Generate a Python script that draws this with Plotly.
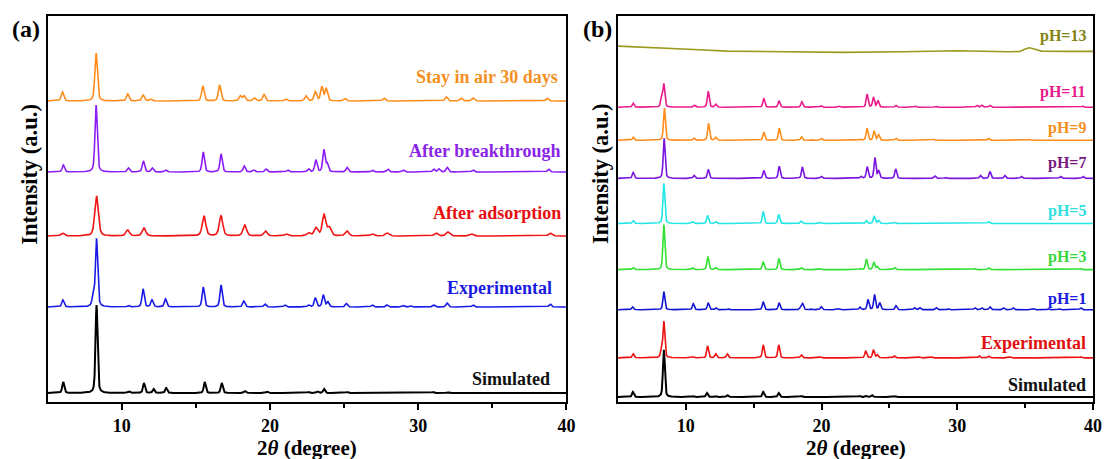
import numpy as np
import plotly.graph_objects as go

# ---------------------------------------------------------------
# Powder XRD patterns: each pattern is listed as peak positions
# (2θ, degree), peak heights (a.u.) and a vertical stacking offset.
# ---------------------------------------------------------------

# ---- panel (a) ----
A_SIM_POS = [6.05, 8.3, 10.5, 11.5, 12.15, 13.0, 15.6, 16.75, 18.3, 19.8, 22.6, 23.2, 23.65, 25.2, 31.0, 32.0]
A_SIM_H = [11, 88, 1.5, 10, 4, 5, 11, 10, 2, 1.5, 1, 1.5, 4, 1, 1, 1]

A_EXP_POS = [6.03, 8.07, 8.3, 10.45, 11.44, 12.04, 12.95, 15.5, 16.7, 18.23, 19.66, 21.0, 22.6, 23.06,
             23.6, 23.9, 25.15, 26.9, 27.9, 29.0, 29.5, 31.05, 31.95, 33.7, 38.9]
A_EXP_H = [7, 9, 68, 1.5, 18, 7, 8, 20, 22, 6, 3, 2, 2, 9, 12, 5, 3.5, 2, 2, 1.5, 1, 2, 4, 2, 3]

A_ADS_POS = [6.0, 8.3, 10.4, 11.5, 15.55, 16.7, 18.3, 19.7, 21.1, 22.6, 23.1, 23.65, 24.0, 25.2,
             26.9, 27.9, 31.2, 32.0, 33.6, 38.9]
A_ADS_H = [3, 40, 6, 8, 20, 20, 11, 5, 2, 3, 8, 21, 8, 5, 2, 3, 3, 4, 2, 3]

A_BRK_POS = [6.06, 8.27, 10.45, 11.46, 12.06, 12.95, 15.5, 16.7, 18.26, 18.9, 19.74, 21.2, 22.6, 23.1,
             23.64, 23.86, 25.2, 26.9, 27.95, 29.0, 31.05, 31.4, 31.96, 33.7, 38.8]
A_BRK_H = [7, 67, 4, 11, 4, 2, 20, 18, 6, 2, 3, 2, 3, 12, 22, 8, 4.5, 2, 3, 2, 3, 3, 4.5, 2, 3]

A_AIR_POS = [6.0, 8.27, 10.4, 11.44, 11.95, 15.47, 16.6, 18.0, 18.25, 18.95, 19.6, 21.07, 22.44, 23.06,
             23.5, 23.8, 25.05, 27.7, 31.9, 32.9, 33.7, 38.7]
A_AIR_H = [9, 48, 7, 6, 2, 15, 16, 5, 5, 3, 6.5, 2, 5, 9, 14, 12, 2.5, 3, 4, 3, 3, 3]

A_NAMES = ["Simulated", "Experimental", "After adsorption", "After breakthrough", "Stay in air 30 days"]
A_OFFSETS = [9, 95, 166, 230, 301]
A_LABEL_Y = [23, 114, 189, 251, 325]
A_LABEL_RIGHT_PX = [556, 559, 568, 568, 565]
A_LINE_COLORS = ["#000000", "#1a1ae6", "#f01414", "#8a1cf5", "#ff8c1a"]
A_TEXT_COLORS = ["#111111", "#1a1ae0", "#e60f0f", "#8a25e8", "#f5901e"]
A_WIDTHS = [0.16, 0.18, 0.28, 0.18, 0.2]

# ---- panel (b) ----
B_SIM_POS = [6.1, 8.38, 10.55, 11.55, 12.2, 13.05, 15.7, 16.84, 18.5, 22.8, 23.3, 23.7, 25.4]
B_SIM_H = [5, 47, 0.8, 4, 1, 2, 5, 4, 1, 1, 1, 2, 0.8]

B_EXP_POS = [6.12, 8.2, 8.38, 10.55, 11.6, 12.2, 13.05, 15.7, 16.84, 18.5, 19.9, 23.25, 23.82, 24.1,
             25.35, 27.2, 28.1, 31.6, 32.3, 33.9, 39.1]
B_EXP_H = [4, 7, 36, 1, 12, 4, 4, 13, 13, 3, 1, 7, 8, 3, 2, 1, 1, 2, 2, 1, 1]

B_PH1_POS = [6.07, 8.38, 10.55, 11.65, 12.2, 13.1, 15.7, 16.87, 18.45, 18.6, 19.2, 19.97, 21.3, 22.82,
             23.42, 23.9, 24.28, 25.48, 26.85, 27.24, 28.45, 29.3, 31.3, 31.8, 32.4, 33.4, 34.1, 35.6,
             36.7, 37.5, 39.1]
B_PH1_H = [3, 18, 6, 7, 2, 1, 8, 7, 2, 6, 1, 3, 1, 2.5, 10, 15, 7, 4, 2, 2, 2, 1, 2, 2, 3, 2, 2, 1, 1, 1, 2]

B_PH3_POS = [6.12, 8.38, 10.5, 11.62, 12.2, 15.7, 16.86, 18.5, 19.9, 22.85, 23.3, 23.85, 24.1, 25.38,
             31.3, 32.3, 39.1]
B_PH3_H = [2, 45, 2, 13, 2, 8, 11, 2, 1, 1, 10.5, 7.5, 3, 2, 1, 2, 1]

B_PH5_POS = [6.12, 8.38, 10.5, 11.6, 12.2, 15.7, 16.84, 18.5, 19.9, 23.3, 23.87, 24.2, 25.4, 32.3]
B_PH5_H = [3, 40, 2, 8, 2, 12, 9, 2.5, 1, 3, 7.5, 3, 1, 2]

B_PH7_POS = [6.12, 8.4, 10.6, 11.65, 15.74, 16.88, 18.58, 19.97, 22.9, 23.36, 23.93, 24.2, 25.46,
             28.35, 29.13, 31.7, 32.4, 33.5, 34.7, 37.6, 39.25]
B_PH7_H = [6, 40, 3, 9, 8, 12, 11.5, 2, 2, 11.5, 20.5, 7.5, 9.5, 2.5, 1, 3, 7, 3, 2, 2, 2]

B_PH9_POS = [6.12, 8.42, 10.6, 11.67, 12.2, 15.74, 16.88, 18.52, 19.3, 19.97, 22.85, 23.35, 23.87,
             24.2, 25.48, 28.24, 32.3, 35.3]
B_PH9_H = [3, 32, 2, 17, 3, 8, 12, 3.5, 1, 2, 1, 12, 9, 5.5, 2, 1, 2, 1]

B_PH11_POS = [6.12, 8.2, 8.38, 10.63, 11.65, 12.2, 15.74, 16.86, 18.54, 19.97, 21.3, 23.35, 23.82,
              24.15, 25.46, 26.9, 28.4, 31.45, 31.8, 32.4, 39.25]
B_PH11_H = [4, 8, 23, 2, 16, 3, 9, 6.5, 5.5, 1.5, 1, 13, 10, 6.5, 2, 1, 1, 2, 2, 2, 1]

# pH=13: amorphous trace, read point by point
B_PH13_X = [5.0, 7.0, 9.0, 11.0, 13.0, 16.5, 21.6, 26.0, 30.0, 33.8, 34.6, 35.0, 35.3, 35.6, 36.2, 38.0, 40.0]
B_PH13_Y = [355, 354, 352.7, 351.3, 350, 349.3, 348.7, 349.3, 350.3, 349.3, 349.6, 352, 353.3, 352.3,
            350, 349.7, 349.7]

B_NAMES = ["Simulated", "Experimental", "pH=1", "pH=3", "pH=5", "pH=7", "pH=9", "pH=11"]
B_OFFSETS = [5, 44, 92, 132, 178, 223, 261, 294]
B_LABEL_Y = [17, 59, 103, 145, 191, 238, 273, 309]
B_LABEL_SIZE = [18, 18, 16, 16, 16, 16, 16, 16]
B_LINE_COLORS = ["#000000", "#ee1111", "#1414d2", "#33e033", "#22e6e6", "#7a14e0", "#ff8c1a", "#eb1a8c"]
B_TEXT_COLORS = ["#111111", "#e01010", "#1a1ae0", "#3ad83a", "#30e0e0", "#7a1a80", "#f5901e", "#e61a8a"]
PH13_COLOR = "#9a9a1e"
PH13_TEXT = "#848414"

FONT = "Liberation Serif, Times New Roman, serif"
W, H = 1114, 459

# 2θ grid used to render the peak profiles
grid = np.arange(5.0, 40.0001, 0.01)


def pattern(pos, hts, fwhm, offset):
    """Pseudo-Voigt sum of the listed reflections on top of an offset."""
    y = np.full_like(grid, float(offset))
    hw = fwhm / 2.0
    for p, h in zip(pos, hts):
        d = (grid - p) / hw
        lor = 1.0 / (1.0 + d * d)
        gau = np.exp(-np.log(2.0) * d * d)
        y += h * (0.45 * lor + 0.55 * gau)
    return y


fig = go.Figure()

a_sets = [(A_SIM_POS, A_SIM_H), (A_EXP_POS, A_EXP_H), (A_ADS_POS, A_ADS_H),
          (A_BRK_POS, A_BRK_H), (A_AIR_POS, A_AIR_H)]
for i, (pos, hts) in enumerate(a_sets):
    fig.add_trace(go.Scatter(
        x=grid, y=pattern(pos, hts, A_WIDTHS[i], A_OFFSETS[i]),
        mode="lines", line=dict(color=A_LINE_COLORS[i], width=2.0 if i == 0 else 1.6),
        name=A_NAMES[i], xaxis="x", yaxis="y", showlegend=False, hoverinfo="skip"))

b_sets = [(B_SIM_POS, B_SIM_H), (B_EXP_POS, B_EXP_H), (B_PH1_POS, B_PH1_H), (B_PH3_POS, B_PH3_H),
          (B_PH5_POS, B_PH5_H), (B_PH7_POS, B_PH7_H), (B_PH9_POS, B_PH9_H), (B_PH11_POS, B_PH11_H)]
for i, (pos, hts) in enumerate(b_sets):
    fig.add_trace(go.Scatter(
        x=grid, y=pattern(pos, hts, 0.16, B_OFFSETS[i]),
        mode="lines", line=dict(color=B_LINE_COLORS[i], width=2.0 if i == 0 else 1.6),
        name=B_NAMES[i], xaxis="x2", yaxis="y2", showlegend=False, hoverinfo="skip"))

fig.add_trace(go.Scatter(
    x=B_PH13_X, y=B_PH13_Y, mode="lines", line=dict(color=PH13_COLOR, width=1.6),
    name="pH=13", xaxis="x2", yaxis="y2", showlegend=False, hoverinfo="skip"))

# curve labels (right-aligned, positioned horizontally in page pixels)
annotations = []
for i, name in enumerate(A_NAMES):
    annotations.append(dict(
        x=A_LABEL_RIGHT_PX[i] / W, y=A_LABEL_Y[i], xref="paper", yref="y", text=name,
        xanchor="right", yanchor="middle", showarrow=False,
        font=dict(family=FONT, size=18, color=A_TEXT_COLORS[i], weight="bold")))
for i, name in enumerate(B_NAMES):
    annotations.append(dict(
        x=1097 / W, y=B_LABEL_Y[i], xref="paper", yref="y2", text=name,
        xanchor="right", yanchor="middle", showarrow=False,
        font=dict(family=FONT, size=B_LABEL_SIZE[i], color=B_TEXT_COLORS[i], weight="bold")))
annotations.append(dict(
    x=1097 / W, y=365, xref="paper", yref="y2", text="pH=13",
    xanchor="right", yanchor="middle", showarrow=False,
    font=dict(family=FONT, size=16, color=PH13_TEXT, weight="bold")))

# panel letters
for txt, px in [("(a)", 26), ("(b)", 602)]:
    annotations.append(dict(
        x=px / W, y=1 - 29 / H, xref="paper", yref="paper", text=txt,
        xanchor="center", yanchor="middle", showarrow=False,
        font=dict(family=FONT, size=24, color="#000000", weight="bold")))

# axis titles
for cx in [309.5, 862.5]:
    annotations.append(dict(
        x=cx / W, y=1 - 448 / H, xref="paper", yref="paper",
        text="2<i>θ</i> (degree)", xanchor="center", yanchor="middle", showarrow=False,
        font=dict(family=FONT, size=21, color="#000000", weight="bold")))
for cx in [29, 605]:
    annotations.append(dict(
        x=cx / W, y=1 - 174 / H, xref="paper", yref="paper",
        text="Intensity (a.u.)", textangle=-90, xanchor="center", yanchor="middle",
        showarrow=False, font=dict(family=FONT, size=22.5, color="#000000", weight="bold")))

xaxis_common = dict(
    range=[5, 40], showline=True, linecolor="#000000", linewidth=1.5, mirror=True,
    showgrid=False, zeroline=False, ticks="outside", ticklen=6, tickwidth=1.5, tickcolor="#000000",
    tickmode="array", tickvals=[10, 20, 30, 40], ticktext=["10", "20", "30", "40"],
    tickfont=dict(family=FONT, size=18, color="#000000", weight="bold"),
    ticklabelstandoff=1,
    minor=dict(tickmode="array", tickvals=[15, 25, 35], ticks="outside", ticklen=4,
               tickwidth=1.5, tickcolor="#000000", showgrid=False),
)
yaxis_common = dict(
    showline=True, linecolor="#000000", linewidth=1.5, mirror=True, showgrid=False,
    zeroline=False, ticks="", showticklabels=False,
)

y_dom = [1 - 402 / H, 1 - 16 / H]
fig.update_layout(
    width=W, height=H,
    margin=dict(l=0, r=0, t=0, b=0),
    paper_bgcolor="#ffffff", plot_bgcolor="#ffffff",
    xaxis=dict(domain=[48 / W, 571 / W], anchor="y", **xaxis_common),
    yaxis=dict(domain=y_dom, range=[0, 386], anchor="x", **yaxis_common),
    xaxis2=dict(domain=[623 / W, 1102 / W], anchor="y2", **xaxis_common),
    yaxis2=dict(domain=y_dom, range=[0, 385], anchor="x2", **yaxis_common),
    annotations=annotations,
    showlegend=False,
)

fig.write_html("out.html")
